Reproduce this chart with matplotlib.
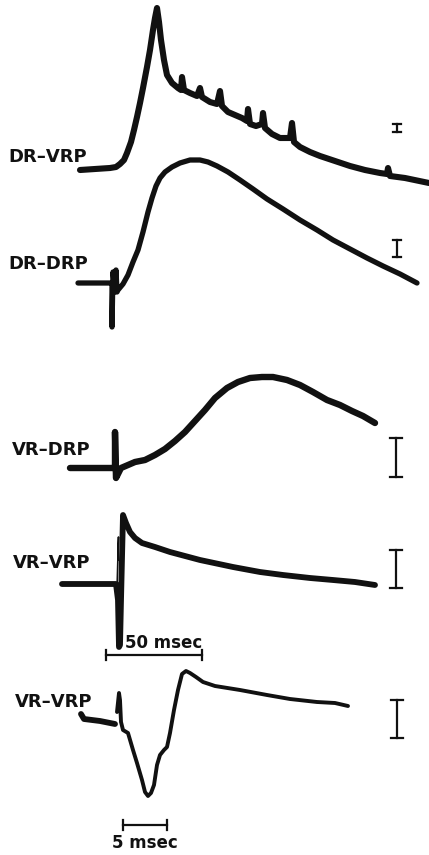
import matplotlib
matplotlib.use("Agg")
import matplotlib.pyplot as plt

# Traces, in picture pixels (x right, y down)
dr_vrp_x = [80, 95, 110, 116, 120, 124, 127, 131, 134, 137, 140, 143, 147, 150, 153,
            155, 157, 159, 161, 164, 167, 172, 178, 181, 182, 184, 190, 197, 200, 202,
            210, 217, 220, 222, 228, 235, 242, 247, 248, 250, 256, 262, 263, 265, 272,
            280, 290, 292, 294, 300, 310, 320, 335, 350, 365, 380, 387, 388, 390, 405, 429]
dr_vrp_y = [170, 169, 168, 167, 164, 160, 153, 142, 130, 117, 103, 88, 67, 50, 30,
            18, 8, 22, 40, 60, 75, 83, 88, 90, 77, 90, 93, 96, 88, 97,
            102, 104, 91, 106, 112, 115, 118, 121, 109, 124, 126, 124, 113, 128, 134,
            138, 138, 123, 142, 147, 152, 156, 161, 166, 170, 173, 174, 168, 176, 178, 183]

dr_drp_x = [78, 95, 111, 112, 112, 113, 115, 116, 117, 118, 123, 128, 133, 138, 143,
            148, 152, 156, 160, 165, 172, 180, 190, 200, 208, 217, 228, 240, 253, 267,
            283, 300, 317, 333, 350, 367, 383, 400, 417]
dr_drp_y = [283, 283, 283, 283, 327, 272, 292, 270, 292, 290, 284, 275, 262, 250, 232,
            212, 198, 186, 178, 172, 167, 163, 160, 160, 162, 166, 172, 180, 189, 199,
            209, 220, 230, 240, 249, 258, 266, 274, 283]

vr_drp_x = [70, 90, 114, 115, 115, 116, 121, 128, 135, 145, 155, 165, 175, 185, 195,
            205, 215, 227, 238, 250, 262, 273, 287, 300, 313, 327, 340, 352, 363, 375]
vr_drp_y = [468, 468, 468, 468, 432, 478, 468, 465, 462, 460, 455, 449, 441, 432, 421,
            410, 398, 388, 382, 378, 377, 377, 380, 385, 392, 400, 405, 411, 416, 423]

vr_vrp_x = [62, 90, 116, 118, 119, 120, 121, 123, 126, 130, 135, 142, 155, 170, 185,
            200, 233, 260, 283, 310, 333, 355, 375]
vr_vrp_y = [584, 584, 584, 600, 647, 645, 600, 515, 523, 532, 538, 543, 547, 552, 556,
            560, 567, 572, 575, 578, 580, 582, 585]
vr_vrp_thin_x = [117, 118.5, 118]
vr_vrp_thin_y = [590, 537, 560]

vr_vrp2_pre_x = [81, 84, 100, 115]
vr_vrp2_pre_y = [714, 719, 721, 724]
vr_vrp2_x = [117, 119, 120, 121, 123, 128, 133, 137, 142, 145, 148, 151, 154, 157, 160,
             164, 167, 170, 174, 178, 182, 186, 190, 196, 203, 215, 240, 267, 290, 317,
             335, 348]
vr_vrp2_y = [712, 693, 700, 722, 730, 733, 750, 763, 780, 792, 796, 793, 785, 765, 755,
             750, 747, 733, 710, 690, 674, 671, 673, 677, 682, 686, 690, 695, 699, 702,
             703, 706]

labels = ["DR\u2013VRP", "DR\u2013DRP", "VR\u2013DRP", "VR\u2013VRP", "VR\u2013VRP"]
label_x = [8, 8, 12, 13, 15]
label_y = [157, 264, 450, 563, 702]

# vertical calibration bars: x, top, bottom
cal_x = [397, 397, 396, 396, 397]
cal_top = [124, 240, 438, 550, 700]
cal_bot = [132, 257, 477, 588, 738]

# time bars: left, right, y, text
time_left = [106, 123]
time_right = [202, 167]
time_y = [655, 825]
time_text = ["50 msec", "5 msec"]
time_text_x = [164, 145]
time_text_y = [643, 843]

fig = plt.figure(figsize=(4.29, 8.55), dpi=100)
ax = fig.add_axes([0, 0, 1, 1])
ax.set_xlim(0, 429)
ax.set_ylim(855, 0)
ax.axis("off")

ink = "#111111"
kw = dict(color=ink, solid_capstyle="round", solid_joinstyle="round")
ax.plot(dr_vrp_x, dr_vrp_y, lw=4.4, **kw)
ax.plot(dr_drp_x, dr_drp_y, lw=3.8, **kw)
ax.plot(vr_drp_x, vr_drp_y, lw=4.6, **kw)
ax.plot(vr_vrp_x, vr_vrp_y, lw=4.2, **kw)
ax.plot(vr_vrp_thin_x, vr_vrp_thin_y, lw=1.2, **kw)
ax.plot(vr_vrp2_pre_x, vr_vrp2_pre_y, lw=4.2, **kw)
ax.plot(vr_vrp2_x, vr_vrp2_y, lw=2.8, **kw)

for lab, lx, ly in zip(labels, label_x, label_y):
    ax.text(lx, ly, lab, fontsize=13, fontweight="bold", color=ink,
            ha="left", va="center", family="DejaVu Sans")

for cx, ct, cb in zip(cal_x, cal_top, cal_bot):
    w = 4 if cb - ct < 20 else 6
    ax.plot([cx, cx], [ct, cb], color=ink, lw=1.6)
    ax.plot([cx - w, cx + w], [ct, ct], color=ink, lw=1.6)
    ax.plot([cx - w, cx + w], [cb, cb], color=ink, lw=1.6)

for l, r, y, t, tx, ty in zip(time_left, time_right, time_y, time_text, time_text_x, time_text_y):
    ax.plot([l, r], [y, y], color=ink, lw=1.6)
    ax.plot([l, l], [y - 5, y + 5], color=ink, lw=1.6)
    ax.plot([r, r], [y - 5, y + 5], color=ink, lw=1.6)
    ax.text(tx, ty, t, fontsize=12, fontweight="bold", color=ink,
            ha="center", va="center", family="DejaVu Sans")

fig.savefig("out.png", dpi=100)
